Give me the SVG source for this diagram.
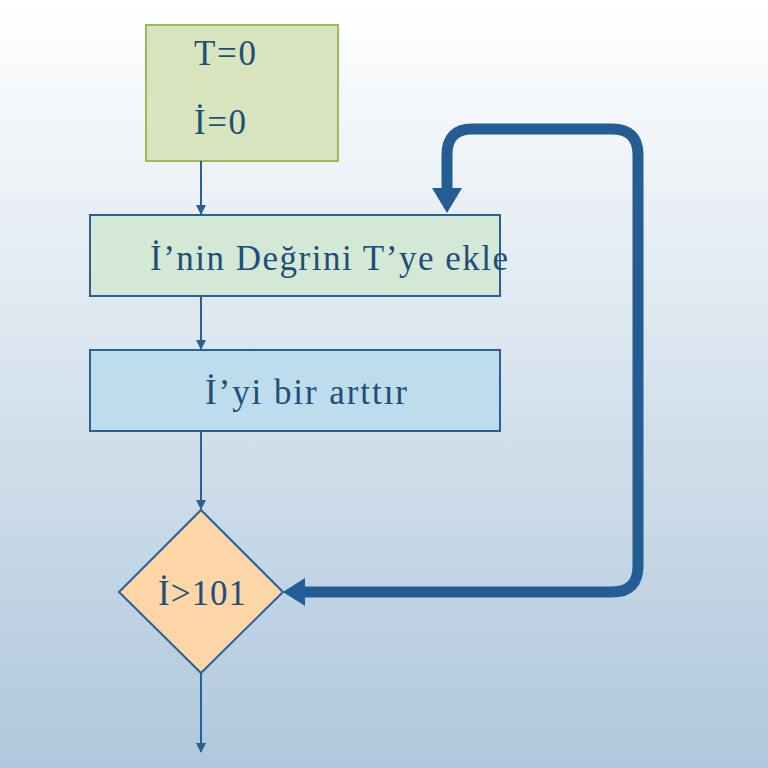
<svg xmlns="http://www.w3.org/2000/svg" width="768" height="768" viewBox="0 0 768 768">
<defs>
<linearGradient id="bg" x1="0" y1="0" x2="0" y2="1"><stop offset="0" stop-color="#ffffff"/><stop offset="1" stop-color="#afc7dc"/></linearGradient>
<marker id="a" markerWidth="10" markerHeight="10" refX="9" refY="5" orient="auto" markerUnits="userSpaceOnUse"><path d="M0,0 L10,5 L0,10 Z" fill="#2a6096"/></marker>
<style>
.t{font-family:"Liberation Serif",serif;font-size:35px;fill:#1f4e79}
.c{stroke:#2a6096;stroke-width:2;fill:none}
</style>
</defs>
<rect width="768" height="768" fill="url(#bg)"/>
<g id="start"><rect x="146" y="25" width="192" height="136" fill="#d7e4bd" stroke="#9bbb59" stroke-width="2"/><text class="t" x="194" y="65" textLength="62">T=0</text><text class="t" x="194" y="134" textLength="52">İ=0</text></g>
<g id="add"><rect x="90" y="215" width="410" height="81" fill="#d3e9d6" stroke="#2a6096" stroke-width="2"/><text class="t" x="150" y="270" textLength="358">İ’nin Değrini T’ye ekle</text></g>
<g id="inc"><rect x="90" y="350" width="410" height="81" fill="#bddcec" stroke="#2a6096" stroke-width="2"/><text class="t" x="205" y="404" textLength="202">İ’yi bir arttır</text></g>
<g id="cond"><polygon points="201,510 283,592 201,673 119,592" fill="#fcd6a6" stroke="#2a6096" stroke-width="2"/><text class="t" x="158" y="605" textLength="88">İ&gt;101</text></g>
<g id="connectors">
<line class="c" x1="201" y1="161" x2="201" y2="214" marker-end="url(#a)"/>
<line class="c" x1="201" y1="296" x2="201" y2="349" marker-end="url(#a)"/>
<line class="c" x1="201" y1="431" x2="201" y2="509" marker-end="url(#a)"/>
<line class="c" x1="201" y1="673" x2="201" y2="752" marker-end="url(#a)"/>
<path d="M302,592 L612,592 Q638,592 638,566 L638,155 Q638,129 612,129 L472,129 Q447,129 447,155 L447,190" fill="none" stroke="#235d93" stroke-width="11"/>
<polygon points="283,592 305,578 305,606" fill="#235d93"/>
<polygon points="447,213 432,188 462,188" fill="#235d93"/>
</g>
</svg>
